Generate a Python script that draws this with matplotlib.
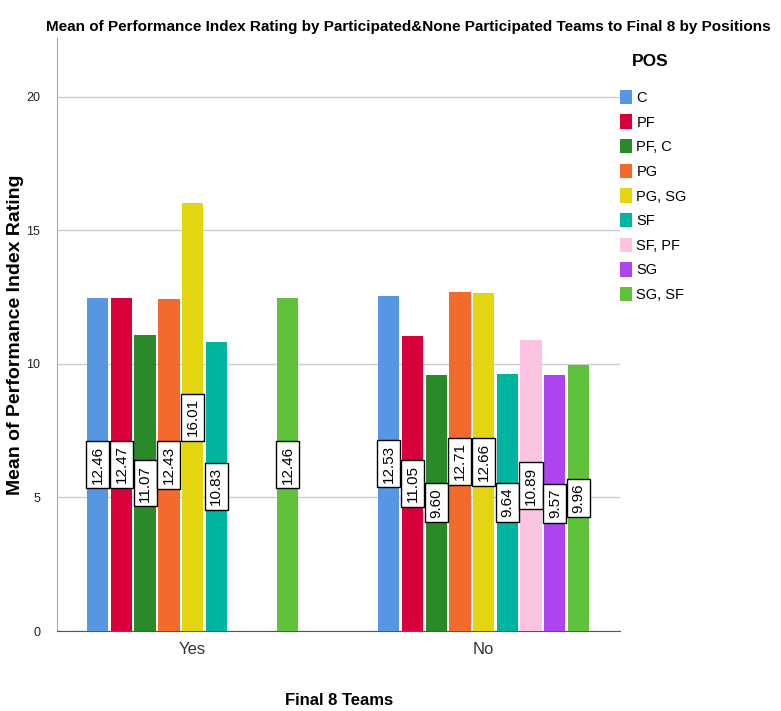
import numpy as np
import matplotlib
matplotlib.use("Agg")
from matplotlib import pyplot as plt

plt.rcParams['font.family'] = ['Liberation Sans', 'DejaVu Sans']

groups = ["Yes", "No"]
positions = ["C", "PF", "PF, C", "PG", "PG, SG", "SF", "SF, PF", "SG", "SG, SF"]
colors = ["#5696e3", "#d8003a", "#2a8a2a", "#f26a2c", "#e3d611",
          "#00b5a0", "#fcc4e0", "#ad45ee", "#5fc23a"]
yes_vals = [12.46, 12.47, 11.07, 12.43, 16.01, 10.83, np.nan, np.nan, 12.46]
no_vals = [12.53, 11.05, 9.60, 12.71, 12.66, 9.64, 10.89, 9.57, 9.96]

fig = plt.figure(figsize=(7.81, 7.11), dpi=100)
ax = fig.add_axes([0.073, 0.1125, 0.721, 0.834])

slot = 0.0815
width = 0.0735
x = np.arange(len(groups))
for i, (pos, c) in enumerate(zip(positions, colors)):
    vals = np.array([yes_vals[i], no_vals[i]])
    xs = x + (i - 4) * slot
    ax.bar(xs, vals, width=width, color=c, label=pos, zorder=3)
    for xx, v in zip(xs, vals):
        if np.isnan(v):
            continue
        ax.text(xx, v / 2, "%.2f" % v, rotation=90, ha="center", va="center",
                fontsize=11, zorder=5,
                bbox=dict(boxstyle="square,pad=0.3", fc="white", ec="black", lw=1))

ax.set_xlim(-0.466, 1.469)
ax.set_ylim(0, 22.2)
ax.set_yticks([0, 5, 10, 15, 20])
ax.set_xticks(x)
ax.set_xticklabels(groups, fontsize=12, color="#333333")
ax.tick_params(axis="y", length=0, labelsize=9, pad=12, labelcolor="#222222")
ax.tick_params(axis="x", length=0, pad=8)
ax.yaxis.grid(True, color="#cccccc", lw=1, zorder=0)
for s in ["top", "right"]:
    ax.spines[s].set_visible(False)
ax.spines["left"].set_color("#aaaaaa")
ax.spines["bottom"].set_color("#555555")

ax.set_ylabel("Mean of Performance Index Rating", fontsize=14, fontweight="bold")
ax.yaxis.set_label_coords(-0.059, 0.5)
ax.set_xlabel("Final 8 Teams", fontsize=12, fontweight="bold")
ax.xaxis.set_label_coords(0.5, -0.105)

leg = ax.legend(loc="upper left", bbox_to_anchor=(0.977, 0.935), frameon=False,
                fontsize=10.5, handlelength=0.8, handleheight=1.15,
                handletextpad=0.3, labelspacing=0.65)
fig.text(0.832, 1 - 62 / 711, "POS", ha="center", va="center",
         fontsize=12.5, fontweight="bold")

fig.text(0.523, 0.962, "Mean of Performance Index Rating by Participated&None Participated Teams to Final 8 by Positions",
         ha="center", va="center", fontsize=11, fontweight="bold")

fig.savefig("out.png", dpi=100)
